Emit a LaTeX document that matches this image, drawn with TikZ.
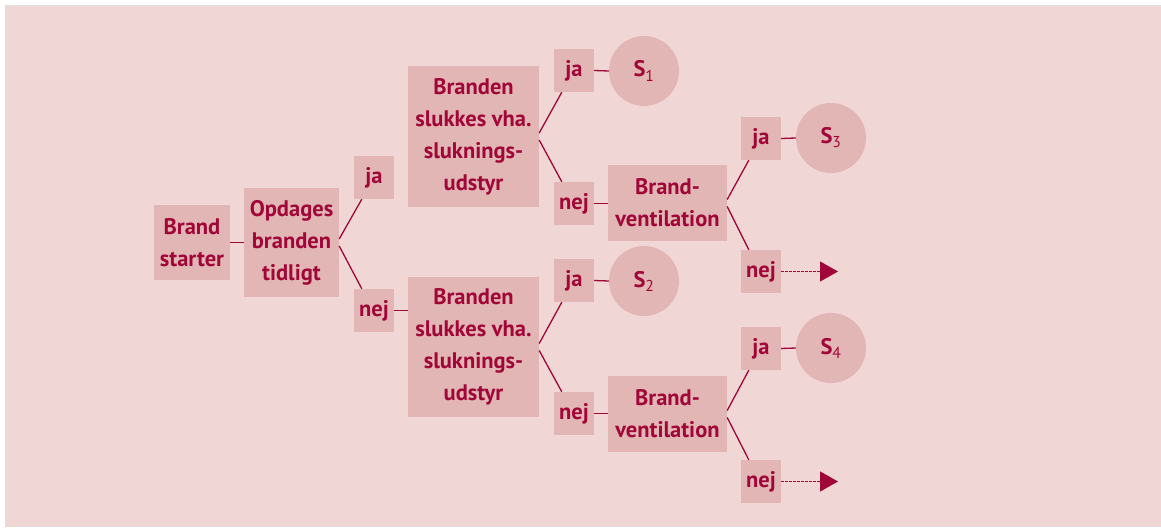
\documentclass[tikz,border=0pt]{standalone}
\usepackage{fontspec}
\setmainfont{PT Sans}
\usetikzlibrary{calc,arrows.meta}
\definecolor{paper}{RGB}{241,214,214}
\definecolor{boxfill}{RGB}{226,182,180}
\definecolor{ink}{RGB}{160,6,56}
\tikzset{
  lbl/.style={fill=boxfill, text=ink, inner sep=0pt, align=center,
    font=\fontsize{22.5}{32}\selectfont\bfseries},
  small/.style={lbl, minimum width=40pt, minimum height=43pt},
  endstate/.style={circle, fill=boxfill, text=ink, minimum size=70pt, inner sep=0pt,
    font=\fontsize{22.5}{25}\selectfont\bfseries},
  link/.style={draw=ink, line width=1.3pt},
  onward/.style={draw=ink, line width=1.2pt, dash pattern=on 3pt off 1pt,
    -{Triangle[length=18pt,width=20pt]}},
}
\newcommand{\St}[1]{S\textsubscript{\mdseries #1}}
\begin{document}
\begin{tikzpicture}[x=1pt,y=-1pt]
  % canvas
  \useasboundingbox (0,0) rectangle (1161,527);
  \fill[white] (0,0) rectangle (1161,527);
  \fill[paper] (5,5) rectangle (1161,527);
  \draw[black!12, line width=0.6pt] (5,527) -- (5,5) -- (1161,5);

  % first two steps
  \node[lbl, minimum width=76pt, minimum height=75pt] (bs) at (192,242.5) {Brand\\starter};
  \node[lbl, minimum width=95pt, minimum height=109pt] (op) at (291.5,242.5) {Opdages\\branden\\tidligt};
  \node[small] (ja1) at (374,177.5) {ja};
  \node[small] (nej1) at (374,310.5) {nej};

  % extinguishing equipment
  \node[lbl, minimum width=131pt, minimum height=141pt] (br1) at (473.5,136.5) {Branden\\slukkes vha.\\sluknings-\\udstyr};
  \node[lbl, minimum width=131pt, minimum height=140pt] (br2) at (473.5,347) {Branden\\slukkes vha.\\sluknings-\\udstyr};

  \node[small] (ja2a) at (574,70.5) {ja};
  \node[small] (nej2a) at (574,203.5) {nej};
  \node[small] (ja2b) at (574,280.5) {ja};
  \node[small] (nej2b) at (574,413.5) {nej};

  \node[endstate] (s1) at (644,71) {\St{1}};
  \node[endstate] (s2) at (644,281) {\St{2}};

  % fire ventilation
  \node[lbl, minimum width=119pt, minimum height=76pt] (bv1) at (667.5,203) {Brand-\\ventilation};
  \node[lbl, minimum width=119pt, minimum height=76pt] (bv2) at (667.5,414) {Brand-\\ventilation};

  \node[small] (ja3a) at (761,138.5) {ja};
  \node[small] (nej3a) at (761,271.5) {nej};
  \node[small] (ja3b) at (761,348.5) {ja};
  \node[small] (nej3b) at (761,481.5) {nej};

  \node[endstate] (s3) at (831,138) {\St{3}};
  \node[endstate] (s4) at (831,348) {\St{4}};

  \coordinate (out1) at (838,271.5);
  \coordinate (out2) at (838,481.5);

  % straight links
  \draw[link] (bs.east) -- (op.west);
  \draw[link] ($(ja1.east)+(0,1.5)$) -- ($(ja1.east)+(0,1.5)$ -| br1.west);
  \draw[link] (nej1.east) -- (nej1.east -| br2.west);
  \draw[link] (ja2a.east) -- (s1.west);
  \draw[link] (nej2a.east) -- (nej2a.east -| bv1.west);
  \draw[link] (ja2b.east) -- (s2.west);
  \draw[link] (nej2b.east) -- (nej2b.east -| bv2.west);
  \draw[link] (ja3a.east) -- (s3.west);
  \draw[link] (ja3b.east) -- (s4.west);

  % branches
  \foreach \p/\u/\d in {op/ja1/nej1, br1/ja2a/nej2a, br2/ja2b/nej2b, bv1/ja3a/nej3a, bv2/ja3b/nej3b}{
    \draw[link] ($(\p.east)+(0,-3.5)$) -- ($(\u.south west)+(8,0)$);
    \draw[link] ($(\p.east)+(0,3.5)$) -- ($(\d.north west)+(8,0)$);
  }

  % continuing outcomes
  \draw[onward] (nej3a.east) -- (out1);
  \draw[onward] (nej3b.east) -- (out2);
\end{tikzpicture}
\end{document}
